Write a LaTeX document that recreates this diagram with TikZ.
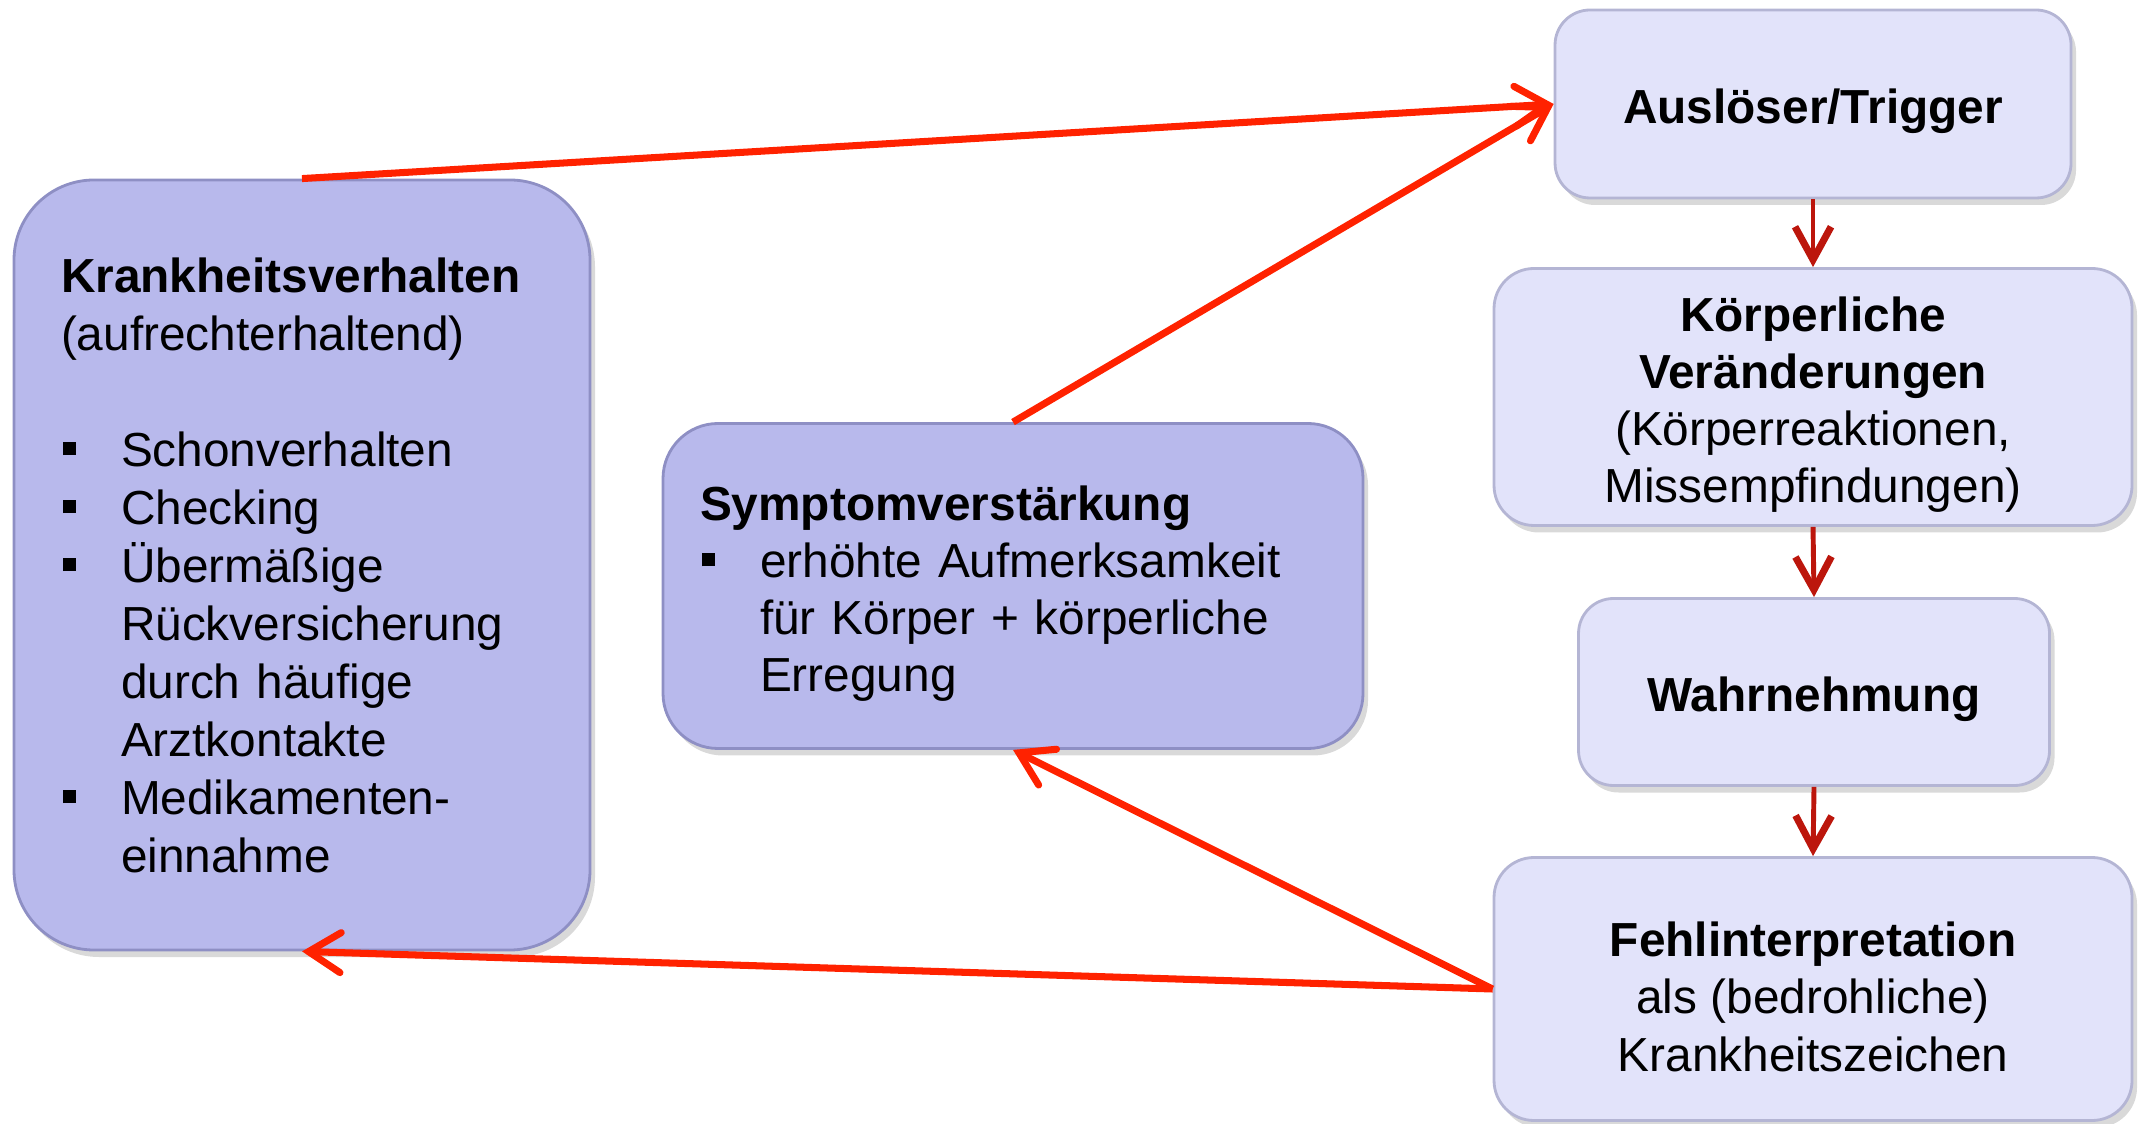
\documentclass[tikz,border=0pt]{standalone}
\usepackage{fontspec}
\setmainfont{Liberation Sans}
\usetikzlibrary{arrows.meta,shadows}
\definecolor{boxdark}{HTML}{B8B9EC}
\definecolor{boxlight}{HTML}{E2E3FA}
\definecolor{rimdark}{HTML}{8E8FC4}
\definecolor{rimlight}{HTML}{B4B5D4}
\definecolor{loopred}{HTML}{FF2200}
\definecolor{flowred}{HTML}{BC160C}
\newcommand{\bul}{\makebox[0.6cm][l]{\hspace{0.02cm}\rule[0.11cm]{0.13cm}{0.13cm}}}
\newcommand{\ind}{\hspace*{0.6cm}}
\newcommand{\topstrut}{\rule{0pt}{0.5cm}}

\begin{document}
\begin{tikzpicture}[
    box/.style={rectangle, line width=0.8pt, font=\fontsize{13.6pt}{16.3pt}\selectfont,
        drop shadow={shadow xshift=0.05cm, shadow yshift=-0.07cm, opacity=0.3}},
    darkbox/.style={box, fill=boxdark, draw=rimdark, align=left},
    lightbox/.style={box, fill=boxlight, draw=rimlight, align=center, inner sep=0pt},
    looparrow/.style={draw=loopred, line width=2pt,
        -{Straight Barb[length=0.32cm, width=0.4cm, line cap=round]}},
    flowarrow/.style={draw=flowred, line width=1.4pt,
        -{Straight Barb[length=0.33cm, width=0.36cm, line width=2pt]}}
  ]
  \useasboundingbox (0,0) rectangle (21.43,11.23);

  \node[darkbox, rounded corners=0.8cm, inner xsep=0.47cm, text width=4.82cm,
        minimum height=7.7cm, font=\fontsize{13.6pt}{16.5pt}\selectfont] (krank) at (3.02,5.58)
    {\textbf{Krankheitsverhalten}\\
     (aufrechterhaltend)\\[16.5pt]
     \bul Schonverhalten\\
     \bul Checking\\
     \bul Übermäßige\\
     \ind Rückversicherung\\
     \ind durch häufige\\
     \ind Arztkontakte\\
     \bul Medikamenten-\\
     \ind einnahme};
  \node[darkbox, rounded corners=0.55cm, inner xsep=0.37cm, text width=6.26cm,
        minimum height=3.25cm] (symptom) at (10.13,5.37)
    {\topstrut\textbf{Symptomverstärkung}\\
     \bul erhöhte Aufmerksamkeit\\
     \ind für Körper + körperliche\\
     \ind Erregung};

  \node[lightbox, rounded corners=0.35cm, minimum width=5.16cm, minimum height=1.88cm]
    (ausl) at (18.13,10.19) {\topstrut\textbf{Auslöser/Trigger}};
  \node[lightbox, rounded corners=0.4cm, minimum width=6.38cm, minimum height=2.57cm]
    (koerper) at (18.13,7.26)
    {\topstrut\textbf{Körperliche}\\ \textbf{Veränderungen}\\ (Körperreaktionen,\\ Missempfindungen)};
  \node[lightbox, rounded corners=0.35cm, minimum width=4.71cm, minimum height=1.87cm]
    (wahr) at (18.14,4.31) {\topstrut\textbf{Wahrnehmung}};
  \node[lightbox, rounded corners=0.4cm, minimum width=6.38cm, minimum height=2.63cm]
    (fehl) at (18.13,1.34)
    {\topstrut\textbf{Fehlinterpretation}\\ als (bedrohliche)\\ Krankheitszeichen};

  \draw[flowarrow] (ausl.south) -- (koerper.north);
  \draw[flowarrow] (koerper.south) -- (wahr.north);
  \draw[flowarrow] (wahr.south) -- (fehl.north);

  \draw[looparrow] (krank.north) -- (ausl.west);
  \draw[looparrow] (symptom.north) -- (ausl.west);
  \draw[looparrow] (fehl.west) -- (symptom.south);
  \draw[looparrow] (fehl.west) -- (krank.south);
\end{tikzpicture}
\end{document}
